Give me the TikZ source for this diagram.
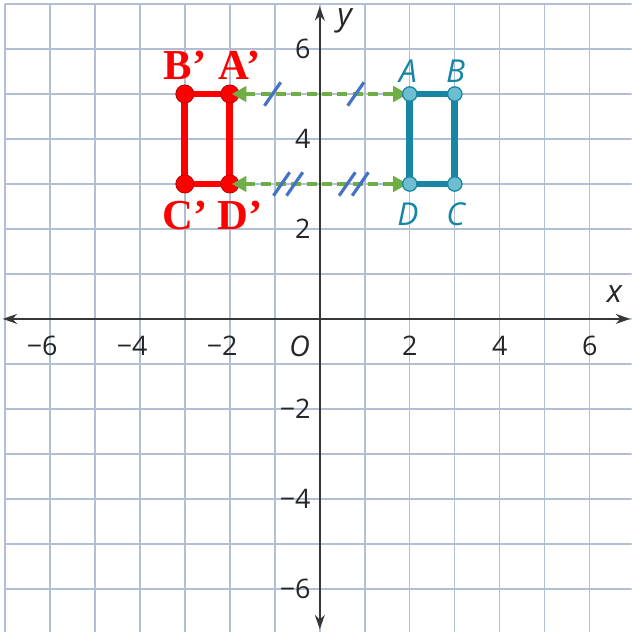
\documentclass[tikz,border=0pt]{standalone}
\usepackage{fontspec}
\setmainfont{Open Sans}
\newfontfamily\primefont{Liberation Serif}
\usetikzlibrary{arrows.meta}

\definecolor{gridblue}{RGB}{178,190,212}
\definecolor{axisgray}{RGB}{55,55,55}
\definecolor{imgteal}{RGB}{22,134,164}
\definecolor{dotteal}{RGB}{110,190,210}
\definecolor{arrowgreen}{RGB}{112,173,71}
\definecolor{hashblue}{RGB}{68,114,196}

\begin{document}
\begin{tikzpicture}[
		gridline/.style={gridblue, line width=0.9pt},
		axisline/.style={axisgray, line width=1.3pt, {Stealth[length=3.2mm,width=2.2mm]}-{Stealth[length=3.2mm,width=2.2mm]}},
		ticklabel/.style={font=\fontsize{17}{17}\selectfont, text=black!85, inner sep=0pt},
		axislabel/.style={font=\fontsize{20}{20}\selectfont\itshape, text=black!85},
		redline/.style={red, line width=4.3pt, line join=round},
		reddot/.style={fill=red, draw=red!75!black, line width=0.6pt},
		redlabel/.style={font=\fontsize{27}{27}\selectfont\primefont\bfseries, text=red},
		tealline/.style={imgteal, line width=4.2pt, line join=round},
		tealdot/.style={fill=dotteal, draw=imgteal, line width=0.8pt},
		teallabel/.style={font=\fontsize{20}{20}\selectfont\itshape, text=imgteal},
		greenarrow/.style={arrowgreen, line width=2.4pt, dash pattern=on 0.22cm off 0.12cm,
			{Triangle[length=3.3mm,width=3.4mm]}-{Triangle[length=3.3mm,width=3.4mm]},
			shorten <=0.04cm, shorten >=0.04cm},
		hashmark/.style={hashblue, line width=2pt}
	]
	\useasboundingbox (-7.11,-6.96) rectangle (6.93,7.09);
	\clip (-7.11,-6.96) rectangle (6.93,7.09);
	\fill[white] (-7.11,-6.96) rectangle (6.93,7.09);

	% grid and axes
	\draw[gridline] (-7,-7.5) grid (7.5,7);
	\draw[axisline] (-7.05,0) -- (6.9,0);
	\draw[axisline] (0,-6.9) -- (0,6.95);
	\node[axislabel] (xlab) at (6.55,0.55) {x};
	\node[axislabel] (ylab) at (0.55,6.62) {y};
	\node[ticklabel, font=\fontsize{18}{18}\selectfont\itshape] (orig) at (-0.45,-0.62) {O};

	\foreach \x in {-6,-4,-2} {
		\node[ticklabel, anchor=north] (xt\x) at (\x,-0.38) {\llap{−}\number-\x};
		\node[ticklabel, anchor=east] (yt\x) at (-0.2,\x) {−\number-\x};
	}
	\foreach \x in {2,4,6} {
		\node[ticklabel, anchor=north] (xt\x) at (\x,-0.38) {\x};
		\node[ticklabel, anchor=east] (yt\x) at (-0.2,\x) {\x};
	}

	% vertices
	\coordinate (Ap) at (-2,5);
	\coordinate (Bp) at (-3,5);
	\coordinate (Cp) at (-3,3);
	\coordinate (Dp) at (-2,3);
	\coordinate (A) at (2,5);
	\coordinate (B) at (3,5);
	\coordinate (C) at (3,3);
	\coordinate (D) at (2,3);

	% image
	\draw[redline] (Ap) -- (Bp) -- (Cp) -- (Dp) -- cycle;
	\foreach \p in {Ap,Bp,Cp,Dp}
		\filldraw[reddot] (\p) circle (0.2);
	\node[redlabel] (labBp) at (-3.0,5.64) {B’};
	\node[redlabel] (labAp) at (-1.78,5.64) {A’};
	\node[redlabel] (labCp) at (-3.0,2.3) {C’};
	\node[redlabel] (labDp) at (-1.78,2.3) {D’};

	% translation arrows
	\draw[greenarrow] (Ap) -- (A);
	\draw[greenarrow] (Dp) -- (D);
	\foreach \x in {-1.05,0.8}
		\draw[hashmark] (\x-0.18,4.74) -- (\x+0.18,5.26);
	\foreach \x in {-0.85,-0.56,0.61,0.9}
		\draw[hashmark] (\x-0.18,2.74) -- (\x+0.18,3.26);

	% preimage
	\draw[tealline] (A) -- (B) -- (C) -- (D) -- cycle;
	\foreach \p in {A,B,C,D}
		\filldraw[tealdot] (\p) circle (0.16);
	\node[teallabel] (labA) at (1.96,5.5) {A};
	\node[teallabel] (labB) at (3.02,5.5) {B};
	\node[teallabel] (labD) at (1.96,2.32) {D};
	\node[teallabel] (labC) at (3.02,2.32) {C};
\end{tikzpicture}
\end{document}
